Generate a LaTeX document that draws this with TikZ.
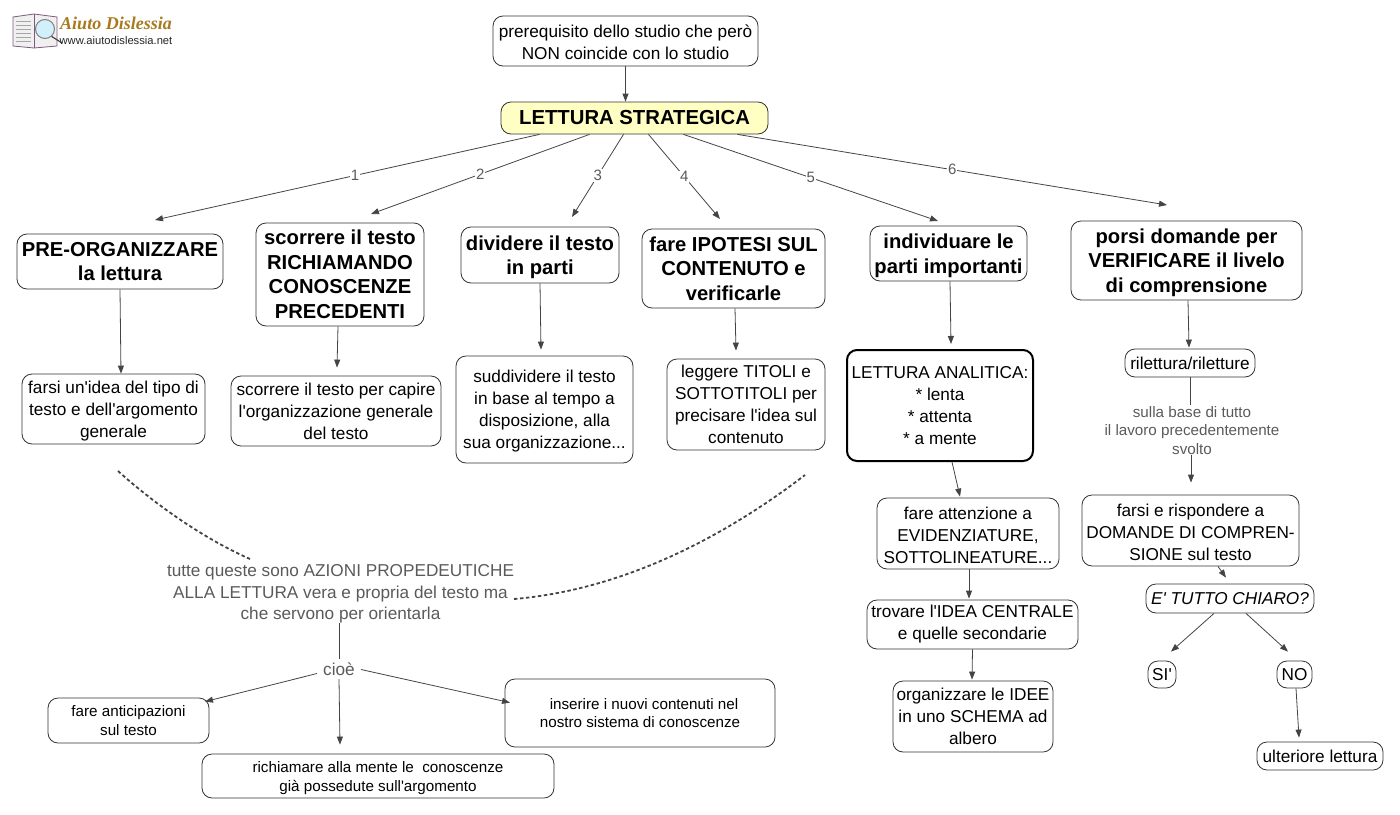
\documentclass[tikz,border=0pt]{standalone}
\usepackage{fontspec}
\setmainfont[Ligatures=TeXOff]{Liberation Sans}
\newfontfamily\logofont{Liberation Serif}
\usetikzlibrary{arrows.meta}
\definecolor{ln}{HTML}{444444}
\definecolor{gt}{HTML}{5A5A5A}
\definecolor{yel}{HTML}{FFFFC4}
\definecolor{gold}{HTML}{A87A1E}
\newcommand{\fs}[2]{\fontsize{#1}{#2}\selectfont}
\newcommand{\mtp}{\rule{0pt}{15.6pt}}
\newcommand{\btp}{\rule{0pt}{18.8pt}}
\tikzset{
 bx/.style={draw=black!80,line width=0.8pt,rounded corners=10pt,fill=white,align=center,inner sep=0pt,text=black},
 big/.style={bx,font=\fs{20.2}{24.5}\bfseries},
 mid/.style={bx,font=\fs{17.2}{22}},
 sm/.style={bx,font=\fs{15.2}{18.5}},
 gtxt/.style={align=center,text=gt,inner sep=0pt},
 lab/.style={fill=white,text=gt,font=\fs{15}{16},inner sep=1pt},
 conn/.style={draw=ln,line width=0.8pt,-{Triangle[length=8pt,width=6pt]}},
 plain/.style={draw=ln,line width=0.8pt},
 dsh/.style={draw=ln,line width=1.8pt,dash pattern=on 3.5pt off 2.5pt},
}
\begin{document}
\begin{tikzpicture}[x=1pt,y=-1pt]
\useasboundingbox (0,0) rectangle (1400,814);
% logo
\draw[draw=gray!70!violet,fill=gray!12,line width=0.8pt] (13,17) -- (34,14) -- (57,17) -- (57,46) -- (34,48) -- (13,46) -- cycle;
\draw[draw=gray!70!violet,line width=0.5pt] (34,14) -- (34,48);
\foreach \y in {21,25,29,33,37,41} \draw[gray!70,line width=0.8pt] (16,\y) -- (31,\y);
\draw[line width=1.2pt,draw=ln] (51,36) -- (62,43);
\draw[draw=gray,fill=cyan!18,line width=1pt] (45,29) circle (9.5);
\node[inner sep=0pt,text=gold,font=\logofont\fs{18}{18}\bfseries\itshape] (logoa) at (116,23) {Aiuto Dislessia};
\node[inner sep=0pt,text=black!85,font=\fs{11.2}{11}] (logob) at (116,40) {www.aiutodislessia.net};
% main nodes
\node[mid,minimum width=265pt,minimum height=50pt] (top) at (625.5,41) {\mtp prerequisito dello studio che però\\NON coincide con lo studio};
\node[bx,fill=yel,font=\fs{20.3}{24}\bfseries,minimum width=267pt,minimum height=32pt] (ls) at (634.5,118) {LETTURA STRATEGICA};
\node[big,minimum width=206pt,minimum height=55pt] (pre) at (120,261.5) {PRE-ORGANIZZARE\\la lettura};
\node[big,minimum width=168pt,minimum height=103pt] (sco) at (340,274.5) {scorrere il testo\\RICHIAMANDO\\CONOSCENZE\\PRECEDENTI};
\node[big,minimum width=158pt,minimum height=56pt] (div) at (540,255) {\btp dividere il testo\\in parti};
\node[big,minimum width=183pt,minimum height=79pt] (ipo) at (733.5,268.5) {fare IPOTESI SUL\\CONTENUTO e\\verificarle};
\node[big,minimum width=157pt,minimum height=55pt] (ind) at (948.5,253.5) {\btp individuare le\\parti importanti};
\node[big,minimum width=231pt,minimum height=79pt] (por) at (1186.5,260.5) {\btp porsi domande per\\VERIFICARE il livelo\\di comprensione};
\node[mid,minimum width=183pt,minimum height=70pt] (far) at (113.5,409) {\mtp farsi un'idea del tipo di\\testo e dell'argomento\\generale};
\node[mid,minimum width=210pt,minimum height=70pt] (sc2) at (336,411) {scorrere il testo per capire\\l'organizzazione generale\\del testo};
\node[mid,minimum width=177pt,minimum height=107pt] (sud) at (544.5,409.5) {\mtp suddividere il testo\\in base al tempo a\\disposizione, alla\\sua organizzazione...};
\node[mid,minimum width=158pt,minimum height=91pt] (leg) at (746,404.5) {leggere TITOLI e\\SOTTOTITOLI per\\precisare l'idea sul\\contenuto};
\node[mid,line width=2pt,draw=black,minimum width=186pt,minimum height=111pt] (ana) at (940,405.5) {LETTURA ANALITICA:\\* lenta\\* attenta\\* a mente};
\node[mid,minimum width=182pt,minimum height=71pt] (att) at (968,533.5) {\mtp fare attenzione a\\EVIDENZIATURE,\\SOTTOLINEATURE...};
\node[mid,minimum width=211pt,minimum height=49pt] (tro) at (972.5,624.5) {trovare l'IDEA CENTRALE\\e quelle secondarie};
\node[mid,minimum width=160pt,minimum height=71pt] (org) at (973,716.5) {organizzare le IDEE\\in uno SCHEMA ad\\albero};
\node[mid,minimum width=130pt,minimum height=28pt] (ril) at (1190,363) {rilettura/riletture};
\node[gtxt,font=\fs{15.2}{18.5}] (sul) at (1192,430.5) {sulla base di tutto\\il lavoro precedentemente\\svolto};
\node[mid,minimum width=217pt,minimum height=71pt] (dom) at (1190.5,530.5) {\mtp farsi e rispondere a\\DOMANDE DI COMPREN-\\SIONE sul testo};
\node[mid,font=\fs{17.2}{22}\itshape,minimum width=168pt,minimum height=29pt] (chi) at (1230,598.5) {E' TUTTO CHIARO?};
\node[mid,minimum width=28pt,minimum height=27pt] (si) at (1162,674.5) {SI'};
\node[mid,minimum width=35pt,minimum height=27pt] (no) at (1294.5,674.5) {NO};
\node[mid,minimum width=126pt,minimum height=28pt] (ult) at (1320,756) {ulteriore lettura};
\node[gtxt,font=\fs{17.2}{21.5}] (tut) at (340.5,594) {tutte queste sono AZIONI PROPEDEUTICHE\\ALLA LETTURA vera e propria del testo ma\\che servono per orientarla};
\node[gtxt,font=\fs{17.2}{20}] (cio) at (339,669.5) {cioè};
\node[sm,minimum width=161pt,minimum height=45pt] (ant) at (128.5,720.5) {fare anticipazioni\\sul testo};
\node[sm,minimum width=352pt,minimum height=44pt] (ric) at (378,776) {\mtp richiamare alla mente le~ conoscenze\\già possedute sull'argomento};
\node[sm,minimum width=270pt,minimum height=68pt] (ins) at (640,713) {\hspace*{8pt}inserire i nuovi contenuti nel\\nostro sistema di conoscenze};
% free ends
\coordinate (c1) at (155,220);
\coordinate (c2) at (371,214);
\coordinate (c3) at (572,217);
\coordinate (c4) at (720,219);
\coordinate (c5) at (938,221);
\coordinate (c6) at (1167,205);
\coordinate (dA) at (118,471);
\coordinate (dB) at (250,559);
\coordinate (dC) at (514,599);
\coordinate (dD) at (805,475);
% connectors
\draw[conn] (top.south) -- (ls.north -| top.south);
\draw[conn] ([xshift=-95pt]ls.south) -- node[lab,pos=.48]{1} (c1);
\draw[conn] ([xshift=-45pt]ls.south) -- node[lab,pos=.5]{2} (c2);
\draw[conn] ([xshift=-11pt]ls.south) -- node[lab,pos=.5]{3} (c3);
\draw[conn] ([xshift=14pt]ls.south) -- node[lab,pos=.5]{4} (c4);
\draw[conn] ([xshift=49pt]ls.south) -- node[lab,pos=.5]{5} (c5);
\draw[conn] ([xshift=103pt]ls.south) -- node[lab,pos=.5]{6} (c6);
\draw[conn] (pre.south) -- ([xshift=7.5pt]far.north);
\draw[conn] ([xshift=-2pt]sco.south) -- ([yshift=8pt,xshift=1pt]sc2.north);
\draw[conn] (div.south) -- ([yshift=6pt,xshift=-3.5pt]sud.north);
\draw[conn] ([xshift=1.5pt]ipo.south) -- ([yshift=8pt,xshift=-10pt]leg.north);
\draw[conn] ([xshift=1.5pt]ind.south) -- ([yshift=5pt,xshift=11pt]ana.north);
\draw[conn] ([xshift=1.5pt]por.south) -- ([yshift=1pt,xshift=-1pt]ril.north);
\draw[conn] ([xshift=12pt]ana.south) -- ([yshift=1pt,xshift=-8pt]att.north);
\draw[conn] ([xshift=1pt]att.south) -- ([yshift=1pt,xshift=-3.5pt]tro.north);
\draw[conn] (tro.south) -- ([yshift=1pt,xshift=-1pt]org.north);
\draw[plain] (ril.south) -- ([yshift=1pt]sul.north -| ril.south);
\draw[conn] ([xshift=-1pt]sul.south) -- ([yshift=12pt,xshift=.5pt]dom.north);
\draw[conn] ([xshift=27.5pt]dom.south) -- ([xshift=-4pt,yshift=6pt]chi.north);
\draw[conn] ([xshift=-16pt]chi.south) -- ([xshift=9pt,yshift=9pt]si.north);
\draw[conn] ([xshift=16pt]chi.south) -- ([xshift=-6.5pt,yshift=9pt]no.north);
\draw[conn] ([xshift=1.5pt]no.south) -- ([xshift=-21pt,yshift=4pt]ult.north);
\draw[plain] ([xshift=-1.5pt]tut.south) -- ([yshift=4pt]cio.north);
\draw[conn] ([xshift=-6pt,yshift=-4pt]cio.west) -- ([xshift=76.5pt,yshift=-4pt]ant.north);
\draw[conn] ([yshift=-3pt]cio.south) -- ([xshift=-38pt,yshift=9pt]ric.north);
\draw[conn] ([xshift=6pt]cio.east) -- ([xshift=-130pt,yshift=-24pt]ins.north);
\draw[dsh] (dA) .. controls (150,500) and (200,537) .. (dB);
\draw[dsh] (dC) .. controls (620,590) and (720,540) .. (dD);
\end{tikzpicture}
\end{document}
